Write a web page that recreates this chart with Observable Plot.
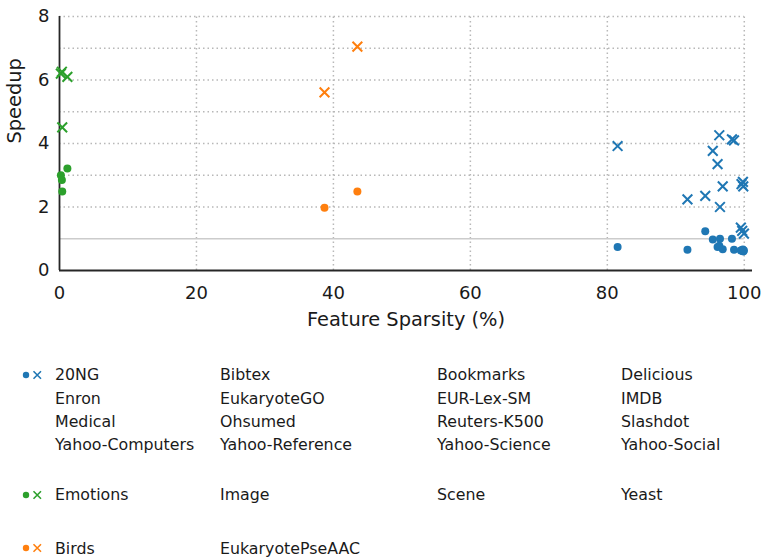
<!DOCTYPE html>
<html><head><meta charset="utf-8">
<script src="https://cdn.jsdelivr.net/npm/d3@7"></script>
<script src="https://cdn.jsdelivr.net/npm/@observablehq/plot@0.6"></script>
<style>
body{margin:0;background:#fff;font-family:"DejaVu Sans",sans-serif;}
#wrap{position:relative;width:764px;height:559px;overflow:hidden;}
.leg{position:absolute;font-size:15.8px;color:#1a1a1a;white-space:nowrap;line-height:1;}
.mk{position:absolute;}
</style></head><body><div id="wrap"></div>
<script>
// ---- data ----
const groupKeys = ["text-like", "dense", "mixed"];
const groupColors = ["#1f77b4", "#2ca02c", "#ff7f0e"];

const blueNames = ["20NG","Bibtex","Bookmarks","Delicious","Enron","EukaryoteGO","EUR-Lex-SM","IMDB",
  "Medical","Ohsumed","Reuters-K500","Slashdot","Yahoo-Computers","Yahoo-Reference","Yahoo-Science","Yahoo-Social"];
const greenNames = ["Emotions","Image","Scene","Yeast"];
const orangeNames = ["Birds","EukaryotePseAAC"];

const blueSparsity   = [81.5, 91.7, 94.3, 95.4, 96.1, 96.35, 96.45, 96.85, 98.2, 98.5, 99.5, 99.6, 99.7, 99.8, 99.85, 99.95];
const blueDotSpeedup = [0.74, 0.65, 1.24, 0.98, 0.74, 0.78, 1.0, 0.67, 1.0, 0.65, 0.63, 0.64, 0.62, 0.66, 0.6, 0.63];
const blueCrossSpeedup = [3.92, 2.24, 2.35, 3.77, 3.35, 4.26, 2.0, 2.65, 4.13, 4.10, 1.35, 2.72, 1.25, 2.79, 2.65, 1.16];

const greenSparsity   = [1.15, 0.2, 0.35, 0.4];
const greenDotSpeedup = [3.21, 3.0, 2.85, 2.49];
const greenCrossSpeedup = [6.10, 6.2, 6.26, 4.51];

const orangeSparsity   = [38.7, 43.5];
const orangeDotSpeedup = [1.98, 2.49];
const orangeCrossSpeedup = [5.61, 7.05];

const xTicks = [0, 20, 40, 60, 80, 100];
const yTicks = [0, 2, 4, 6, 8];
const yGrid = [2, 3, 4, 5, 6, 7, 8];
const xGrid = [20, 40, 60, 80, 100];
const baseline = [1];
const xLabel = "Feature Sparsity (%)";
const yLabel = "Speedup";

// ---- build rows ----
const rows = [];
function addRows(key, xs, ds, cs) {
  xs.forEach((x, i) => rows.push({group: key, x, dot: ds[i], cross: cs[i]}));
}
addRows(groupKeys[0], blueSparsity, blueDotSpeedup, blueCrossSpeedup);
addRows(groupKeys[1], greenSparsity, greenDotSpeedup, greenCrossSpeedup);
addRows(groupKeys[2], orangeSparsity, orangeDotSpeedup, orangeCrossSpeedup);

const gridStyle = {stroke: "#b8b8b8", strokeWidth: 1.5, strokeDasharray: "1.5,3"};

const chart = Plot.plot({
  width: 764, height: 345,
  marginLeft: 59, marginRight: 12, marginTop: 16, marginBottom: 75,
  style: {fontFamily: "DejaVu Sans, sans-serif", fontSize: "18px", color: "#1a1a1a", background: "#fff"},
  x: {domain: [0, 101.2]},
  y: {domain: [0, 8]},
  color: {domain: groupKeys, range: groupColors},
  marks: [
    Plot.ruleY(yGrid, {y: d => d, x1: 0, x2: 100, ...gridStyle}),
    Plot.ruleX(xGrid, {x: d => d, y1: 0, y2: 8, ...gridStyle}),
    Plot.ruleY(baseline, {y: d => d, x1: 0, x2: 100, stroke: "#cccccc", strokeWidth: 1.6}),
    Plot.axisX({ticks: xTicks, tickSize: 0, tickPadding: 16, fontSize: 18, label: null}),
    Plot.axisY({ticks: yTicks, tickSize: 0, tickPadding: 10, fontSize: 18, label: null}),
    Plot.text([xLabel], {text: d => d, frameAnchor: "bottom", lineAnchor: "top", dy: 42, fontSize: 19.4, fill: "#1a1a1a"}),
    Plot.text([yLabel], {text: d => d, frameAnchor: "left", lineAnchor: "top", rotate: -90, dx: -52, fontSize: 19.4, fill: "#1a1a1a"}),
    Plot.ruleX([0], {y1: 0, y2: 8, stroke: "#262626", strokeWidth: 1.8}),
    Plot.ruleY([0], {x1: 0, x2: 101.2, stroke: "#262626", strokeWidth: 1.8}),
    Plot.dot(rows, {x: "x", y: "dot", fill: "group", r: 4, symbol: "circle", stroke: null}),
    Plot.dot(rows, {x: "x", y: "cross", stroke: "group", r: 4.5, symbol: "times", strokeWidth: 2})
  ]
});

const wrap = document.getElementById("wrap");
chart.style.position = "absolute";
chart.style.left = "0px";
chart.style.top = "0px";
wrap.appendChild(chart);

// ---- legend ----
const colX = [55, 220, 437, 621];
const rowH = 23.3;
const legendGroups = [
  {names: blueNames, color: groupColors[0], top: 375},
  {names: greenNames, color: groupColors[1], top: 495},
  {names: orangeNames, color: groupColors[2], top: 548.3}
];
const fs = 15.8;
legendGroups.forEach(g => {
  const mk = document.createElementNS("http://www.w3.org/2000/svg", "svg");
  mk.setAttribute("width", 30); mk.setAttribute("height", 14);
  mk.setAttribute("class", "mk");
  mk.style.left = "18px"; mk.style.top = (g.top - 7) + "px";
  mk.innerHTML = `<circle cx="8" cy="7" r="3.2" fill="${g.color}"/>` +
    `<path d="M15.5,3.3L23,10.7M15.5,10.7L23,3.3" stroke="${g.color}" stroke-width="1.6" fill="none"/>`;
  wrap.appendChild(mk);
  g.names.forEach((n, i) => {
    const r = Math.floor(i / 4), c = i % 4;
    const d = document.createElement("div");
    d.className = "leg";
    d.textContent = n;
    d.style.left = colX[c] + "px";
    d.style.top = (g.top + r * rowH - 0.48 * fs) + "px";
    wrap.appendChild(d);
  });
});
</script>
</body></html>
